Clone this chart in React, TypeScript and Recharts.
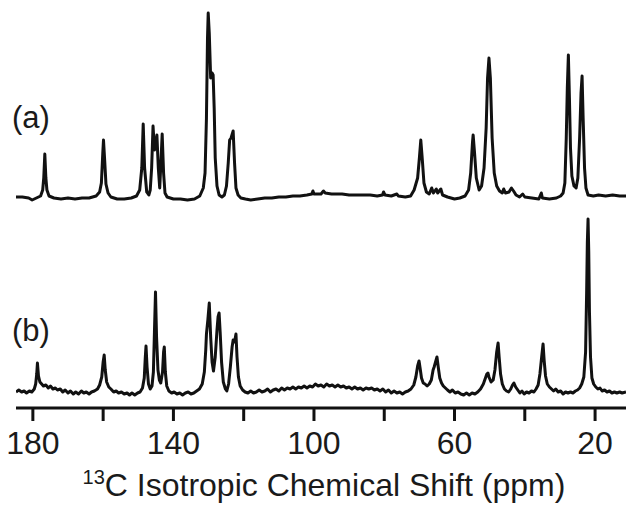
import { LineChart, Line, XAxis, YAxis, Label } from "recharts";

// ppm ticks; only every other one carries a number
const xTicks = [180, 160, 140, 120, 100, 80, 60, 40, 20];
const xTickLabels = [180, 140, 100, 60, 20];

// (ppm, intensity above each trace's own baseline)
const traceA: [number, number][] = [
  [184.8, 1], [183, 1], [181.2, 0], [180.2, -2], [179, 0], [177.8, 2], [177.2, 8], [176.9, 20],
  [176.6, 44], [176.3, 20], [176.0, 8], [175.4, 2], [174, 0], [172, -1], [170, 0], [168, -1],
  [166, 0], [164, 0], [162, 2], [161, 6], [160.5, 15], [160.1, 45], [159.9, 58], [159.6, 40],
  [159.2, 14], [158.6, 5], [157.8, 1], [156, -1], [154, -1], [152, 0], [150.5, 2], [149.6, 8],
  [149.0, 30], [148.6, 74], [148.2, 30], [147.6, 6], [147.0, 3], [146.6, 8], [146.2, 30],
  [145.8, 72], [145.4, 48], [145.1, 52], [144.7, 63], [144.3, 30], [143.9, 10], [143.5, 40],
  [143.2, 64], [142.8, 25], [142.4, 5], [141.8, 1], [140, -1], [138, -1], [136, -2], [134, -1],
  [132.5, 2], [131.5, 10], [131, 25], [130.6, 80], [130.3, 160], [130.1, 185], [129.8, 165],
  [129.4, 120], [129.0, 125], [128.7, 123], [128.4, 90], [128.1, 40], [127.6, 12], [127, 3],
  [126.2, 1], [125.5, 3], [124.9, 12], [124.4, 35], [124.0, 58], [123.6, 60], [123.0, 67],
  [122.6, 35], [122.2, 10], [121.6, 3], [120.8, 0], [119.5, -1], [118, -2], [116, -1], [114, 0],
  [112, 0], [110, 1], [108, 1], [106, 2], [104, 2], [102, 3], [100.6, 4], [100.3, 7], [100.0, 4],
  [98, 4], [97.3, 7], [96.8, 5], [95, 4], [92, 4], [90, 3], [88, 3], [86, 3], [84, 3], [82, 2],
  [80.5, 3], [80.2, 6], [79.8, 3], [78, 2], [76.4, 4], [76, 2], [74, 1], [72.5, 2], [71.5, 8],
  [70.5, 20], [70.0, 40], [69.6, 58], [69.2, 40], [68.7, 15], [68.0, 6], [67.2, 4], [66.5, 10],
  [66.0, 5], [65.2, 9], [64.8, 5], [63.9, 9], [63.4, 3], [62, 1], [60, -1], [58.5, 0], [57, 2],
  [56, 8], [55.4, 25], [54.9, 55], [54.7, 63], [54.3, 45], [53.8, 20], [53.0, 8], [52.3, 12],
  [51.6, 30], [51.0, 70], [50.6, 120], [50.2, 140], [49.8, 120], [49.3, 60], [48.7, 25],
  [48.0, 12], [47.2, 7], [46.4, 5], [46.0, 9], [45.5, 5], [44.5, 6], [43.8, 10], [43.2, 7],
  [42.5, 3], [41.5, 1], [40.6, 4], [40.0, 1], [38, 0], [36, -1], [35.3, 5], [35.0, 0], [33, -1],
  [31, 0], [29.8, 2], [29.1, 5], [28.6, 15], [28.2, 60], [27.9, 110], [27.6, 143], [27.3, 100],
  [27.0, 50], [26.6, 22], [26.0, 12], [25.4, 10], [24.9, 20], [24.4, 60], [24.0, 105],
  [23.7, 122], [23.4, 80], [23.0, 30], [22.6, 10], [22.0, 3], [20.5, 2], [19, 3], [17, 2],
  [15, 3], [13, 2], [11.2, 2],
];

const traceB: [number, number][] = [
  [184.8, 0], [184, 2], [183.2, 0], [182.5, 1], [181.8, -1], [181, 1], [180.3, 0], [179.6, 3],
  [179.2, 8], [178.9, 18], [178.7, 29], [178.4, 16], [178.0, 10], [177.5, 8], [177, 6],
  [176.3, 7], [175.6, 4], [175, 6], [174.3, 3], [173.6, 4], [173, 2], [172.2, 3], [171.5, 0],
  [170.8, 2], [170, -1], [169.3, 1], [168.5, -2], [167.8, 0], [167, -2], [166.2, 1], [165.5, -1],
  [164.8, 0], [164, -2], [163.3, 0], [162.5, 1], [161.6, 3], [161, 7], [160.4, 15], [160.0, 30],
  [159.7, 37], [159.4, 22], [159.0, 10], [158.4, 5], [157.8, 3], [157, 0], [156.3, 1],
  [155.6, -1], [154.8, 0], [154, -2], [153.2, -1], [152.5, -3], [151.8, -1], [151, -3],
  [150.2, -1], [149.5, 0], [148.8, 4], [148.3, 14], [148.0, 35], [147.8, 46], [147.5, 25],
  [147.1, 8], [146.6, 3], [146.1, 6], [145.7, 20], [145.4, 60], [145.1, 100], [144.8, 55],
  [144.4, 22], [144.0, 12], [143.6, 9], [143.1, 20], [142.8, 40], [142.6, 45], [142.3, 20],
  [141.9, 6], [141.3, 1], [140.5, -1], [139.8, 0], [139, -2], [138.2, -1], [137.4, -3],
  [136.6, -1], [135.8, 0], [135, -2], [134.2, -1], [133.4, 1], [132.6, 3], [131.8, 8],
  [131.2, 20], [130.8, 42], [130.6, 58], [130.2, 72], [129.8, 89], [129.4, 55], [129.0, 30],
  [128.6, 21], [128.1, 35], [127.6, 62], [127.3, 75], [127.0, 79], [126.7, 60], [126.3, 30],
  [125.8, 10], [125.2, 3], [124.8, 1], [124.3, 8], [123.8, 25], [123.3, 45], [123.0, 52],
  [122.6, 50], [122.2, 58], [121.9, 35], [121.5, 15], [121, 6], [120.3, 2], [119.6, 0],
  [118.8, -1], [118, 1], [117.2, -1], [116.4, 0], [115.6, 2], [114.8, 0], [114, 1], [113.2, 3],
  [112.4, 0], [111.6, 2], [110.8, 3], [110, 1], [109.2, 4], [108.4, 2], [107.6, 4], [106.8, 3],
  [106, 5], [105.2, 3], [104.4, 5], [103.6, 4], [102.8, 6], [102, 4], [101.2, 6], [100.4, 5],
  [99.6, 8], [98.8, 6], [98, 7], [97.2, 5], [96.4, 8], [95.6, 6], [94.8, 7], [94, 5], [93.2, 7],
  [92.4, 5], [91.6, 6], [90.8, 4], [90, 5], [89.2, 3], [88.4, 5], [87.6, 3], [86.8, 4], [86, 2],
  [85.2, 4], [84.4, 3], [83.6, 4], [82.8, 2], [82, 3], [81.2, 1], [80.4, 3], [79.6, 0],
  [78.8, 2], [78, -1], [77.2, 1], [76.4, -1], [75.6, 0], [74.8, -2], [74, 0], [73.2, 1],
  [72.4, 3], [71.6, 7], [71, 15], [70.5, 26], [70.1, 31], [69.8, 24], [69.4, 14], [68.9, 9],
  [68.4, 8], [67.8, 6], [67.2, 8], [66.6, 12], [66.1, 22], [65.8, 25], [65.4, 30], [65.0, 35],
  [64.6, 24], [64.2, 14], [63.7, 9], [63.2, 6], [62.6, 4], [62, 2], [61.3, 0], [60.6, 2],
  [59.8, -1], [59, 0], [58.2, -2], [57.4, -3], [56.6, -1], [55.8, -3], [55, -1], [54.2, -2],
  [53.4, 0], [52.6, 3], [51.8, 8], [51.2, 14], [50.8, 18], [50.5, 19], [50.2, 15], [49.6, 10],
  [49.0, 12], [48.5, 22], [48.0, 40], [47.6, 49], [47.3, 35], [46.9, 18], [46.4, 8], [45.8, 3],
  [45.2, 1], [44.6, 0], [44, 3], [43.5, 7], [43.1, 9], [42.6, 5], [42, 2], [41.4, -1],
  [40.8, 1], [40.2, -2], [39.5, 0], [38.8, -1], [38.1, 1], [37.4, 0], [36.8, 3], [36.2, 7],
  [35.7, 18], [35.2, 35], [34.8, 48], [34.5, 32], [34.1, 16], [33.6, 8], [33, 5], [32.4, 3],
  [31.8, 1], [31.2, 3], [30.5, 0], [29.8, 1], [29.1, -2], [28.4, 0], [27.7, -1], [27, 0],
  [26.3, -1], [25.6, 1], [25, 2], [24.4, 4], [23.8, 8], [23.2, 15], [22.7, 40], [22.4, 100],
  [22.2, 150], [22.0, 173], [21.8, 140], [21.6, 80], [21.3, 35], [20.9, 14], [20.4, 8],
  [19.8, 5], [19.2, 3], [18.6, 4], [18, 1], [17.3, 2], [16.6, 0], [15.9, 1], [15.2, -1],
  [14.5, 0], [13.8, -1], [13, 0], [12.3, -1], [11.2, 0],
];

// vertical stacking of the two spectra
const OFFSET_A = 210;
const OFFSET_B = 16;

const seriesA = traceA.map(([ppm, h]) => ({ ppm, v: h + OFFSET_A }));
const seriesB = traceB.map(([ppm, h]) => ({ ppm, v: h + OFFSET_B }));

const FONT = "'Liberation Sans', Arial, Helvetica, sans-serif";
const INK = "#111";

function AxisTitle(props: any) {
  const vb = props.viewBox || { x: 16, y: 408, width: 610, height: 98 };
  return (
    <text
      x={vb.x + vb.width / 2 + 3}
      y={vb.y + 88}
      textAnchor="middle"
      fontFamily={FONT}
      fontSize={32}
      fill="#1a1a1a"
    >
      <tspan fontSize={20} dy={-12}>13</tspan>
      <tspan dy={12}>C Isotropic Chemical Shift (ppm)</tspan>
    </text>
  );
}

export default function App() {
  return (
    <div style={{ position: "absolute", left: 0, top: 0, width: 626, height: 506, background: "#fff" }}>
      <LineChart width={626} height={506} margin={{ top: 0, right: 0, bottom: 0, left: 16 }}>
        <XAxis
          type="number"
          dataKey="ppm"
          domain={[11.2, 184.8]}
          reversed
          allowDataOverflow
          ticks={xTicks}
          interval={0}
          tickFormatter={(v: number) => (xTickLabels.includes(v) ? String(v) : "")}
          height={98}
          tickSize={13}
          tickMargin={10}
          axisLine={{ stroke: INK, strokeWidth: 3 }}
          tickLine={{ stroke: INK, strokeWidth: 3 }}
          tick={{ fontSize: 32, fontFamily: FONT, fill: "#1a1a1a" }}
        >
          <Label content={<AxisTitle />} />
        </XAxis>
        <YAxis type="number" domain={[0, 408]} hide />
        <Line
          data={seriesA}
          dataKey="v"
          type="linear"
          stroke={INK}
          strokeWidth={3}
          strokeLinejoin="round"
          dot={false}
          activeDot={false}
          isAnimationActive={false}
        />
        <Line
          data={seriesB}
          dataKey="v"
          type="linear"
          stroke={INK}
          strokeWidth={3}
          strokeLinejoin="round"
          dot={false}
          activeDot={false}
          isAnimationActive={false}
        />
      </LineChart>
      <div style={{ position: "absolute", left: 12, top: 100, fontFamily: FONT, fontSize: 31, color: "#1a1a1a", lineHeight: "36px" }}>
        (a)
      </div>
      <div style={{ position: "absolute", left: 12, top: 313, fontFamily: FONT, fontSize: 31, color: "#1a1a1a", lineHeight: "36px" }}>
        (b)
      </div>
    </div>
  );
}
